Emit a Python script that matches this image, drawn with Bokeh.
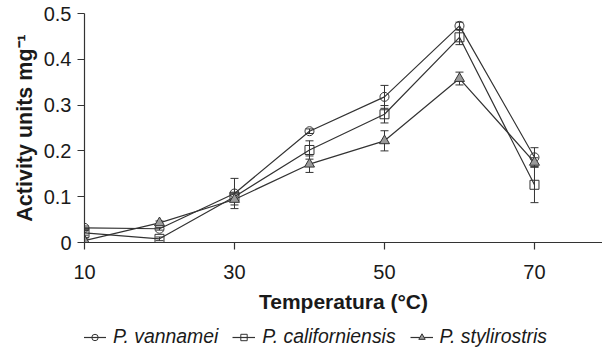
from bokeh.plotting import figure
from bokeh.layouts import column
from bokeh.models import ColumnDataSource, Whisker, Legend, LegendItem, FixedTicker, Range1d, TeeHead
from bokeh.embed import file_html
from bokeh.resources import INLINE

# ---- data ----
temps = [10, 20, 30, 40, 50, 60, 70]
vannamei = [0.032, 0.030, 0.107, 0.243, 0.318, 0.473, 0.186]
vannamei_err = [0.004, 0.003, 0.033, 0.005, 0.025, 0.008, 0.021]
californiensis = [0.021, 0.008, 0.100, 0.202, 0.280, 0.448, 0.126]
californiensis_err = [0.005, 0.004, 0.008, 0.020, 0.019, 0.016, 0.039]
stylirostris = [0.004, 0.043, 0.094, 0.171, 0.222, 0.358, 0.175]
stylirostris_err = [0.004, 0.004, 0.012, 0.018, 0.022, 0.014, 0.010]
x_ticks = [10, 30, 50, 70]
y_ticks = [0, 0.1, 0.2, 0.3, 0.4, 0.5]
y_tick_labels = ["0", "0.1", "0.2", "0.3", "0.4", "0.5"]
series_names = ["P. vannamei", "P. californiensis", "P. stylirostris"]
x_title = "Temperatura (°C)"
y_title = "Activity units mg⁻¹"

FONT = "Liberation Sans"
DARK = "#333333"
TEXT = "#1a1a1a"

p = figure(frame_width=518, frame_height=229,
           x_range=Range1d(10, 79.07), y_range=Range1d(0, 0.5),
           output_backend="svg", toolbar_location=None,
           min_border_left=84, min_border_right=0, min_border_top=13, min_border_bottom=0)
p.outline_line_color = None
p.xgrid.visible = False
p.ygrid.visible = False
p.background_fill_color = "white"

# strip underneath that holds the legend (its frame is aligned with the chart's frame)
lf = figure(width=602, height=33, x_range=Range1d(0, 1), y_range=Range1d(0, 1),
            output_backend="svg", toolbar_location=None,
            x_axis_location=None, y_axis_location=None, min_border=0)
lf.outline_line_color = None
lf.xgrid.visible = False
lf.ygrid.visible = False

series = [
    (vannamei, vannamei_err, "circle", None),
    (californiensis, californiensis_err, "square", None),
    (stylirostris, stylirostris_err, "triangle", "#9a9a9a"),
]

items = []
for (vals, errs, marker, fill), name in zip(series, series_names):
    src = ColumnDataSource(dict(
        x=temps, y=vals,
        upper=[v + e for v, e in zip(vals, errs)],
        lower=[v - e for v, e in zip(vals, errs)],
    ))
    line_kw = dict(line_color=DARK, line_width=1.2)
    mk_kw = dict(marker=marker, size=10 if marker == "triangle" else 9,
                 line_color=DARK, line_width=1, fill_color=fill if fill else None)
    p.line("x", "y", source=src, **line_kw)
    w = Whisker(source=src, base="x", upper="upper", lower="lower",
                line_color=DARK, line_width=1,
                upper_head=TeeHead(size=8, line_color=DARK, line_width=1),
                lower_head=TeeHead(size=8, line_color=DARK, line_width=1))
    p.add_layout(w)
    p.scatter("x", "y", source=src, **mk_kw)
    # same series in the legend strip (outside its visible range) for the key
    lr = lf.line("x", "y", source=src, **line_kw)
    sr = lf.scatter("x", "y", source=src, **mk_kw)
    items.append(LegendItem(label=name, renderers=[lr, sr]))

# axes
for ax in (p.xaxis[0], p.yaxis[0]):
    ax.axis_line_color = DARK
    ax.axis_line_width = 1.2
    ax.major_tick_line_color = DARK
    ax.major_tick_line_width = 1.2
    ax.major_tick_in = 0
    ax.major_tick_out = 7
    ax.minor_tick_line_color = None
    ax.major_label_text_font = FONT
    ax.major_label_text_font_size = "20px"
    ax.major_label_text_color = TEXT
    ax.axis_label_text_font = FONT
    ax.axis_label_text_font_style = "bold"
    ax.axis_label_text_color = TEXT

p.xaxis.ticker = FixedTicker(ticks=x_ticks)
p.yaxis.ticker = FixedTicker(ticks=y_ticks)
p.yaxis.major_label_overrides = {t: l for t, l in zip(y_ticks, y_tick_labels)}
p.xaxis.major_label_standoff = 15
p.yaxis.major_label_standoff = 6
p.xaxis.axis_label = x_title
p.yaxis.axis_label = y_title
p.xaxis.axis_label_text_font_size = "21px"
p.yaxis.axis_label_text_font_size = "21.5px"
p.xaxis.axis_label_standoff = 8
p.yaxis.axis_label_standoff = 4

legend = Legend(items=items, orientation="horizontal", location=(-1, 0),
                label_text_font=FONT, label_text_font_style="italic",
                label_text_font_size="19.4px", label_text_color=TEXT,
                glyph_width=23, glyph_height=16, label_standoff=7, spacing=14,
                border_line_color=None, background_fill_alpha=0,
                padding=0, margin=0)
lf.add_layout(legend)

layout = column(p, lf, spacing=0)
open("out.html", "w").write(file_html(layout, INLINE))
